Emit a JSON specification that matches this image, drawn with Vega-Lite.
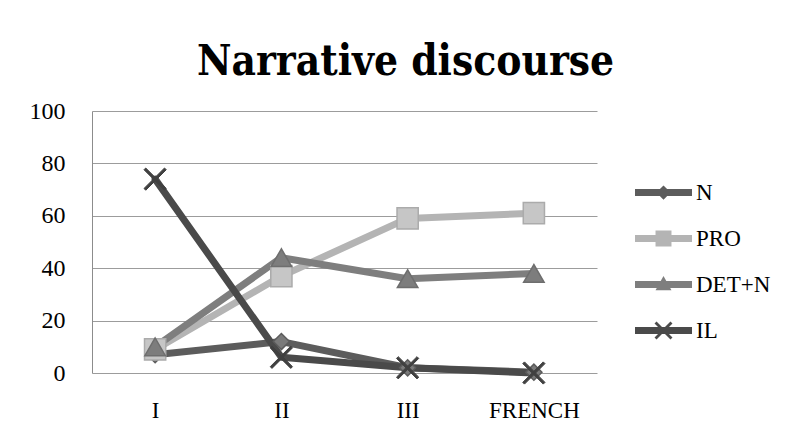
{
  "$schema": "https://vega.github.io/schema/vega-lite/v6.json",
  "autosize": {"type": "none"},
  "padding": {"left": 92, "top": 111, "right": 193, "bottom": 59},
  "width": 505,
  "height": 262,
  "background": "white",
  "title": {
    "text": "Narrative discourse",
    "font": "DejaVu Serif Condensed",
    "fontSize": 42,
    "fontWeight": "bold",
    "color": "#000000",
    "anchor": "middle",
    "frame": "group",
    "dx": 61,
    "offset": 15
  },
  "config": {
    "view": {"stroke": null},
    "font": "Liberation Serif"
  },
  "data": {
    "values": [
      {"cat": "I", "series": "N", "value": 7},
      {"cat": "II", "series": "N", "value": 12},
      {"cat": "III", "series": "N", "value": 2},
      {"cat": "FRENCH", "series": "N", "value": 0.3},
      {"cat": "I", "series": "PRO", "value": 9},
      {"cat": "II", "series": "PRO", "value": 37},
      {"cat": "III", "series": "PRO", "value": 59},
      {"cat": "FRENCH", "series": "PRO", "value": 61},
      {"cat": "I", "series": "DET+N", "value": 10},
      {"cat": "II", "series": "DET+N", "value": 44},
      {"cat": "III", "series": "DET+N", "value": 36},
      {"cat": "FRENCH", "series": "DET+N", "value": 38},
      {"cat": "I", "series": "IL", "value": 74},
      {"cat": "II", "series": "IL", "value": 6},
      {"cat": "III", "series": "IL", "value": 2},
      {"cat": "FRENCH", "series": "IL", "value": 0}
    ]
  },
  "encoding": {
    "x": {
      "field": "cat",
      "type": "nominal",
      "sort": ["I", "II", "III", "FRENCH"],
      "scale": {"type": "point", "padding": 0.5},
      "axis": {
        "title": null,
        "labelAngle": 0,
        "labelFont": "Liberation Serif",
        "labelFontSize": 23,
        "labelColor": "#000000",
        "labelPadding": 26,
        "ticks": false,
        "domain": false,
        "grid": false
      }
    },
    "y": {
      "field": "value",
      "type": "quantitative",
      "scale": {"domain": [0, 100], "nice": false},
      "axis": {
        "title": null,
        "values": [0, 20, 40, 60, 80, 100],
        "labelFont": "Liberation Serif",
        "labelFontSize": 24,
        "labelColor": "#000000",
        "labelPadding": 27,
        "ticks": false,
        "domain": true,
        "domainColor": "#8c8c8c",
        "domainWidth": 1,
        "grid": true,
        "gridColor": "#9c9c9c",
        "gridWidth": 1
      }
    }
  },
  "layer": [
    {
      "mark": {"type": "line", "strokeWidth": 7, "strokeCap": "round", "strokeJoin": "round"},
      "encoding": {
        "stroke": {
          "field": "series",
          "type": "nominal",
          "sort": ["N", "PRO", "DET+N", "IL"],
          "scale": {"domain": ["N", "PRO", "DET+N", "IL"], "range": ["#5c5c5c", "#b4b4b4", "#7e7e7e", "#4a4a4a"]},
          "legend": null
        },
        "order": {"field": "series", "type": "nominal"}
      }
    },
    {
      "transform": [{"filter": "datum.series === 'N'"}],
      "mark": {"type": "point", "filled": true, "opacity": 1, "shape": "diamond", "size": 260, "fill": "#7a7a7a", "stroke": "#5c5c5c", "strokeWidth": 1.5}
    },
    {
      "transform": [{"filter": "datum.series === 'PRO'"}],
      "mark": {"type": "point", "filled": true, "opacity": 1, "shape": "square", "size": 450, "fill": "#c6c6c6", "stroke": "#ababab", "strokeWidth": 1.5}
    },
    {
      "transform": [{"filter": "datum.series === 'DET+N'"}],
      "mark": {"type": "point", "filled": true, "opacity": 1, "shape": "triangle-up", "size": 420, "fill": "#7d7d7d", "stroke": "#6e6e6e", "strokeWidth": 1.5}
    },
    {
      "transform": [{"filter": "datum.series === 'IL'"}],
      "mark": {"type": "point", "filled": true, "opacity": 1, "shape": "M-0.915,-1.085L1.085,0.915L0.915,1.085L-1.085,-0.915Z M1.085,-0.915L-0.915,1.085L-1.085,0.915L0.915,-1.085Z", "size": 420, "fill": "#404040", "stroke": "#404040", "strokeWidth": 1}
    },
    {
      "mark": {"type": "point", "filled": true, "opacity": 0, "size": 3249},
      "encoding": {
        "color": {
          "field": "series",
          "type": "nominal",
          "scale": {"domain": ["N", "PRO", "DET+N", "IL"], "range": ["#5c5c5c", "#b4b4b4", "#7e7e7e", "#4a4a4a"]},
          "legend": {
            "title": null,
            "orient": "none",
            "legendX": 543,
            "legendY": 53,
            "symbolSize": 3249,
            "symbolStrokeWidth": 0,
            "labelFont": "Liberation Serif",
            "labelFontSize": 23,
            "labelColor": "#000000",
            "labelOffset": 4,
            "rowPadding": 5,
            "encode": {"symbols": {"update": {"opacity": {"value": 1}}}}
          }
        },
        "shape": {
          "field": "series",
          "type": "nominal",
          "scale": {"domain": ["N", "PRO", "DET+N", "IL"], "range": [
            "M-1,-0.12H1V0.12H-1Z M0,-0.25L0.25,0L0,0.25L-0.25,0Z",
            "M-1,-0.12H1V0.12H-1Z M-0.28,-0.28H0.28V0.28H-0.28Z",
            "M-1,-0.12H1V0.12H-1Z M0,-0.3L0.28,0.2H-0.28Z",
            "M-1,-0.12H1V0.12H-1Z M-0.245,-0.315L0.315,0.245L0.245,0.315L-0.315,-0.245Z M0.315,-0.245L-0.245,0.315L-0.315,0.245L0.245,-0.315Z"
          ]},
          "legend": {
            "title": null,
            "orient": "none",
            "legendX": 543,
            "legendY": 53,
            "symbolSize": 3249,
            "symbolStrokeWidth": 0,
            "labelFont": "Liberation Serif",
            "labelFontSize": 23,
            "labelColor": "#000000",
            "labelOffset": 4,
            "rowPadding": 5,
            "encode": {"symbols": {"update": {"opacity": {"value": 1}}}}
          }
        }
      }
    }
  ],
  "resolve": {
    "scale": {"shape": "independent", "color": "independent"},
    "legend": {"shape": "independent", "color": "independent"}
  }
}
